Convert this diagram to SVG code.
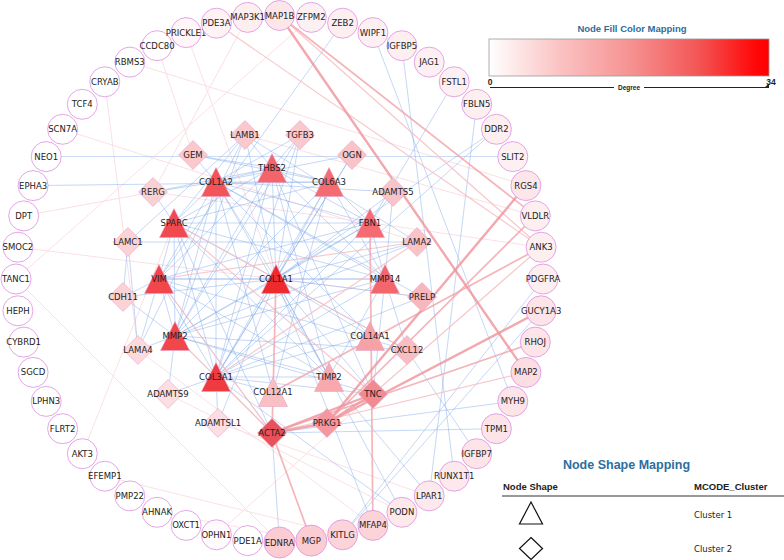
<svg xmlns="http://www.w3.org/2000/svg" width="784" height="560" viewBox="0 0 784 560">
<style>
.b{stroke:#7ba6ea;stroke-width:0.7;opacity:0.62}
.p1{stroke:#f0939a;stroke-width:2.4;opacity:0.8}
.p2{stroke:#f3a3a9;stroke-width:1.7;opacity:0.8}
.p3{stroke:#f6bcc0;stroke-width:1.2;opacity:0.8}
.p4{stroke:#fbe0e3;stroke-width:1}
.o circle{stroke:#dc8fdf;stroke-width:0.8}
.n polygon{stroke:#e8a3c6;stroke-width:0.6}
text{font-family:"DejaVu Sans",sans-serif;font-size:8.5px;fill:#222;text-anchor:middle}
.ttl{font-family:"Liberation Sans",sans-serif;font-weight:bold;fill:#2e6e9e}
.lg{font-family:"Liberation Sans",sans-serif;fill:#222;text-anchor:start}
</style>
<defs>
<linearGradient id="deg" x1="0" y1="0" x2="1" y2="0">
<stop offset="0" stop-color="#ffffff"/>
<stop offset="0.25" stop-color="#fbc3c3"/>
<stop offset="0.5" stop-color="#f69393"/>
<stop offset="0.75" stop-color="#f35555"/>
<stop offset="0.95" stop-color="#ff0808"/>
<stop offset="1" stop-color="#ff0000"/>
</linearGradient>
</defs>
<rect width="784" height="560" fill="#ffffff"/>
<g id="edges">
<line class="p4" x1="17.9" y1="247.2" x2="422" y2="297"/>
<line class="p4" x1="16" y1="279" x2="279.5" y2="542.5"/>
<line class="p4" x1="104.8" y1="81.8" x2="138" y2="350"/>
<line class="p4" x1="129.8" y1="62.1" x2="525.9" y2="185.6"/>
<line class="p4" x1="62.6" y1="129.3" x2="417" y2="242"/>
<line class="p4" x1="157.1" y1="45.7" x2="193" y2="155"/>
<line class="p4" x1="247.7" y1="17.4" x2="153" y2="192"/>
<line class="p4" x1="82.3" y1="453.7" x2="174" y2="223"/>
<line class="p4" x1="104.8" y1="476.2" x2="342.6" y2="534.8"/>
<line class="p4" x1="157.1" y1="512.3" x2="311.3" y2="540.6"/>
<line class="p4" x1="216.4" y1="534.8" x2="373" y2="394"/>
<line class="p4" x1="245" y1="135" x2="535.3" y2="215.9"/>
<line class="p4" x1="153" y1="192" x2="541.1" y2="247.2"/>
<line class="p4" x1="23.7" y1="215.9" x2="153" y2="192"/>
<line class="p4" x1="186.1" y1="32.6" x2="276" y2="279"/>
<line class="p4" x1="311.3" y1="17.4" x2="16" y2="279"/>
<line class="p4" x1="168" y1="394" x2="401.9" y2="512.3"/>
<line class="p4" x1="138" y1="350" x2="372.9" y2="525.4"/>
<line class="p4" x1="218" y1="423" x2="429.2" y2="495.9"/>
<line class="b" x1="276" y1="279" x2="216" y2="182"/>
<line class="b" x1="276" y1="279" x2="216" y2="377"/>
<line class="b" x1="276" y1="279" x2="174" y2="223"/>
<line class="b" x1="276" y1="279" x2="159" y2="279"/>
<line class="b" x1="276" y1="279" x2="175" y2="336"/>
<line class="b" x1="276" y1="279" x2="385" y2="279"/>
<line class="b" x1="276" y1="279" x2="272" y2="168"/>
<line class="b" x1="276" y1="279" x2="329" y2="182"/>
<line class="b" x1="276" y1="279" x2="370" y2="223"/>
<line class="b" x1="276" y1="279" x2="370" y2="336"/>
<line class="b" x1="276" y1="279" x2="329" y2="377"/>
<line class="b" x1="216" y1="182" x2="216" y2="377"/>
<line class="b" x1="216" y1="182" x2="174" y2="223"/>
<line class="b" x1="216" y1="182" x2="159" y2="279"/>
<line class="b" x1="216" y1="182" x2="175" y2="336"/>
<line class="b" x1="216" y1="182" x2="385" y2="279"/>
<line class="b" x1="216" y1="182" x2="272" y2="168"/>
<line class="b" x1="216" y1="182" x2="329" y2="182"/>
<line class="b" x1="216" y1="182" x2="370" y2="223"/>
<line class="b" x1="216" y1="182" x2="370" y2="336"/>
<line class="b" x1="216" y1="182" x2="273" y2="392"/>
<line class="b" x1="216" y1="182" x2="329" y2="377"/>
<line class="b" x1="216" y1="377" x2="174" y2="223"/>
<line class="b" x1="216" y1="377" x2="159" y2="279"/>
<line class="b" x1="216" y1="377" x2="175" y2="336"/>
<line class="b" x1="216" y1="377" x2="385" y2="279"/>
<line class="b" x1="216" y1="377" x2="272" y2="168"/>
<line class="b" x1="216" y1="377" x2="329" y2="182"/>
<line class="b" x1="216" y1="377" x2="370" y2="223"/>
<line class="b" x1="216" y1="377" x2="370" y2="336"/>
<line class="b" x1="216" y1="377" x2="273" y2="392"/>
<line class="b" x1="216" y1="377" x2="329" y2="377"/>
<line class="b" x1="174" y1="223" x2="159" y2="279"/>
<line class="b" x1="174" y1="223" x2="175" y2="336"/>
<line class="b" x1="174" y1="223" x2="385" y2="279"/>
<line class="b" x1="174" y1="223" x2="272" y2="168"/>
<line class="b" x1="174" y1="223" x2="329" y2="182"/>
<line class="b" x1="174" y1="223" x2="370" y2="223"/>
<line class="b" x1="174" y1="223" x2="329" y2="377"/>
<line class="b" x1="159" y1="279" x2="175" y2="336"/>
<line class="b" x1="159" y1="279" x2="385" y2="279"/>
<line class="b" x1="159" y1="279" x2="272" y2="168"/>
<line class="b" x1="159" y1="279" x2="370" y2="223"/>
<line class="b" x1="159" y1="279" x2="329" y2="377"/>
<line class="b" x1="175" y1="336" x2="385" y2="279"/>
<line class="b" x1="175" y1="336" x2="272" y2="168"/>
<line class="b" x1="175" y1="336" x2="329" y2="182"/>
<line class="b" x1="175" y1="336" x2="370" y2="223"/>
<line class="b" x1="175" y1="336" x2="329" y2="377"/>
<line class="b" x1="385" y1="279" x2="272" y2="168"/>
<line class="b" x1="385" y1="279" x2="370" y2="223"/>
<line class="b" x1="385" y1="279" x2="329" y2="377"/>
<line class="b" x1="385" y1="279" x2="329" y2="182"/>
<line class="b" x1="272" y1="168" x2="329" y2="182"/>
<line class="b" x1="272" y1="168" x2="370" y2="223"/>
<line class="b" x1="272" y1="168" x2="329" y2="377"/>
<line class="b" x1="329" y1="182" x2="370" y2="223"/>
<line class="b" x1="329" y1="182" x2="273" y2="392"/>
<line class="b" x1="193" y1="155" x2="272" y2="168"/>
<line class="b" x1="193" y1="155" x2="329" y2="182"/>
<line class="b" x1="193" y1="155" x2="216" y2="182"/>
<line class="b" x1="245" y1="135" x2="276" y2="279"/>
<line class="b" x1="245" y1="135" x2="174" y2="223"/>
<line class="b" x1="245" y1="135" x2="175" y2="336"/>
<line class="b" x1="245" y1="135" x2="272" y2="168"/>
<line class="b" x1="245" y1="135" x2="128" y2="242"/>
<line class="b" x1="245" y1="135" x2="417" y2="242"/>
<line class="b" x1="245" y1="135" x2="138" y2="350"/>
<line class="b" x1="128" y1="242" x2="138" y2="350"/>
<line class="b" x1="128" y1="242" x2="417" y2="242"/>
<line class="b" x1="300" y1="135" x2="276" y2="279"/>
<line class="b" x1="300" y1="135" x2="272" y2="168"/>
<line class="b" x1="300" y1="135" x2="216" y2="182"/>
<line class="b" x1="300" y1="135" x2="175" y2="336"/>
<line class="b" x1="300" y1="135" x2="216" y2="377"/>
<line class="b" x1="352" y1="155" x2="276" y2="279"/>
<line class="b" x1="352" y1="155" x2="216" y2="377"/>
<line class="b" x1="352" y1="155" x2="216" y2="182"/>
<line class="b" x1="153" y1="192" x2="216" y2="182"/>
<line class="b" x1="153" y1="192" x2="272" y2="168"/>
<line class="b" x1="153" y1="192" x2="174" y2="223"/>
<line class="b" x1="393" y1="192" x2="370" y2="223"/>
<line class="b" x1="393" y1="192" x2="276" y2="279"/>
<line class="b" x1="393" y1="192" x2="385" y2="279"/>
<line class="b" x1="393" y1="192" x2="216" y2="182"/>
<line class="b" x1="417" y1="242" x2="276" y2="279"/>
<line class="b" x1="417" y1="242" x2="175" y2="336"/>
<line class="b" x1="123" y1="297" x2="159" y2="279"/>
<line class="b" x1="123" y1="297" x2="128" y2="242"/>
<line class="b" x1="123" y1="297" x2="175" y2="336"/>
<line class="b" x1="123" y1="297" x2="276" y2="279"/>
<line class="b" x1="422" y1="297" x2="276" y2="279"/>
<line class="b" x1="422" y1="297" x2="216" y2="377"/>
<line class="b" x1="422" y1="297" x2="216" y2="182"/>
<line class="b" x1="138" y1="350" x2="175" y2="336"/>
<line class="b" x1="138" y1="350" x2="159" y2="279"/>
<line class="b" x1="407" y1="350" x2="175" y2="336"/>
<line class="b" x1="407" y1="350" x2="385" y2="279"/>
<line class="b" x1="407" y1="350" x2="276" y2="279"/>
<line class="b" x1="407" y1="350" x2="159" y2="279"/>
<line class="b" x1="168" y1="394" x2="216" y2="377"/>
<line class="b" x1="168" y1="394" x2="175" y2="336"/>
<line class="b" x1="373" y1="394" x2="276" y2="279"/>
<line class="b" x1="373" y1="394" x2="175" y2="336"/>
<line class="b" x1="373" y1="394" x2="385" y2="279"/>
<line class="b" x1="373" y1="394" x2="216" y2="377"/>
<line class="b" x1="373" y1="394" x2="272" y2="168"/>
<line class="b" x1="218" y1="423" x2="216" y2="377"/>
<line class="b" x1="218" y1="423" x2="276" y2="279"/>
<line class="b" x1="272" y1="433" x2="159" y2="279"/>
<line class="b" x1="272" y1="433" x2="216" y2="377"/>
<line class="b" x1="272" y1="433" x2="174" y2="223"/>
<line class="b" x1="46.2" y1="156.6" x2="512.8" y2="156.6"/>
<line class="b" x1="33.1" y1="185.6" x2="329" y2="182"/>
<line class="b" x1="342.6" y1="23.2" x2="159" y2="279"/>
<line class="b" x1="372.9" y1="32.6" x2="512.8" y2="401.4"/>
<line class="b" x1="401.9" y1="45.7" x2="454.2" y2="476.2"/>
<line class="b" x1="454.2" y1="81.8" x2="370" y2="223"/>
<line class="b" x1="476.7" y1="104.3" x2="429.2" y2="495.9"/>
<line class="b" x1="496.4" y1="129.3" x2="276" y2="279"/>
<line class="b" x1="496.4" y1="129.3" x2="216" y2="377"/>
<line class="b" x1="543" y1="279" x2="342.6" y2="534.8"/>
<line class="b" x1="476.7" y1="453.7" x2="407" y2="350"/>
<line class="b" x1="496.4" y1="428.7" x2="272" y2="433"/>
<line class="b" x1="512.8" y1="401.4" x2="272" y2="433"/>
<line class="b" x1="429.2" y1="495.9" x2="329" y2="377"/>
<line class="b" x1="401.9" y1="512.3" x2="276" y2="279"/>
<line class="b" x1="401.9" y1="512.3" x2="216" y2="377"/>
<line class="b" x1="342.6" y1="534.8" x2="541.1" y2="310.8"/>
<line class="b" x1="279.5" y1="542.5" x2="272" y2="433"/>
<line class="b" x1="372.9" y1="525.4" x2="276" y2="279"/>
<line class="p3" x1="279.5" y1="15.5" x2="541.1" y2="247.2"/>
<line class="p3" x1="175" y1="336" x2="272" y2="433"/>
<line class="p3" x1="159" y1="279" x2="272" y2="433"/>
<line class="p3" x1="159" y1="279" x2="417" y2="242"/>
<line class="p3" x1="216.4" y1="23.2" x2="541.1" y2="247.2"/>
<line class="p3" x1="174" y1="223" x2="373" y2="394"/>
<line class="p3" x1="216" y1="377" x2="417" y2="242"/>
<line class="p3" x1="174" y1="223" x2="407" y2="350"/>
<line class="p3" x1="272" y1="433" x2="525.9" y2="372.4"/>
<line class="p3" x1="373" y1="394" x2="541.1" y2="247.2"/>
<line class="p3" x1="216" y1="377" x2="272" y2="433"/>
<line class="p2" x1="279.5" y1="15.5" x2="535.3" y2="215.9"/>
<line class="p2" x1="370" y1="223" x2="372.9" y2="525.4"/>
<line class="p2" x1="276" y1="279" x2="272" y2="433"/>
<line class="p2" x1="272" y1="433" x2="311.3" y2="540.6"/>
<line class="p2" x1="272" y1="433" x2="535.3" y2="342.1"/>
<line class="p2" x1="327" y1="423" x2="535.3" y2="215.9"/>
<line class="p2" x1="273" y1="392" x2="541.1" y2="247.2"/>
<line class="p1" x1="279.5" y1="15.5" x2="525.9" y2="372.4"/>
<line class="p1" x1="272" y1="433" x2="327" y2="423"/>
<line class="p1" x1="272" y1="433" x2="373" y2="394"/>
<line class="p1" x1="327" y1="423" x2="373" y2="394"/>
<line class="p1" x1="327" y1="423" x2="525.9" y2="185.6"/>
<line class="p1" x1="327" y1="423" x2="541.1" y2="310.8"/>
</g>
<g id="outer-nodes" class="o">
<g id="MAP1B"><circle cx="279.5" cy="15.5" r="15" fill="#fde6ea"/><text x="279.5" y="18.5">MAP1B</text></g>
<g id="ZFPM2"><circle cx="311.3" cy="17.4" r="15" fill="#fdf0f2"/><text x="311.3" y="20.4">ZFPM2</text></g>
<g id="ZEB2"><circle cx="342.6" cy="23.2" r="15" fill="#fdeef0"/><text x="342.6" y="26.2">ZEB2</text></g>
<g id="WIPF1"><circle cx="372.9" cy="32.6" r="15" fill="#fdf0f2"/><text x="372.9" y="35.6">WIPF1</text></g>
<g id="IGFBP5"><circle cx="401.9" cy="45.7" r="15" fill="#fdeef0"/><text x="401.9" y="48.7">IGFBP5</text></g>
<g id="JAG1"><circle cx="429.2" cy="62.1" r="15" fill="#fdf0f2"/><text x="429.2" y="65.1">JAG1</text></g>
<g id="FSTL1"><circle cx="454.2" cy="81.8" r="15" fill="#fdf0f2"/><text x="454.2" y="84.8">FSTL1</text></g>
<g id="FBLN5"><circle cx="476.7" cy="104.3" r="15" fill="#fdeef0"/><text x="476.7" y="107.3">FBLN5</text></g>
<g id="DDR2"><circle cx="496.4" cy="129.3" r="15" fill="#fdeef0"/><text x="496.4" y="132.3">DDR2</text></g>
<g id="SLIT2"><circle cx="512.8" cy="156.6" r="15" fill="#fdf0f2"/><text x="512.8" y="159.6">SLIT2</text></g>
<g id="RGS4"><circle cx="525.9" cy="185.6" r="15" fill="#fde6ea"/><text x="525.9" y="188.6">RGS4</text></g>
<g id="VLDLR"><circle cx="535.3" cy="215.9" r="15" fill="#fdeef0"/><text x="535.3" y="218.9">VLDLR</text></g>
<g id="ANK3"><circle cx="541.1" cy="247.2" r="15" fill="#fdeef0"/><text x="541.1" y="250.2">ANK3</text></g>
<g id="PDGFRA"><circle cx="543" cy="279" r="15" fill="#fdeef0"/><text x="543" y="282">PDGFRA</text></g>
<g id="GUCY1A3"><circle cx="541.1" cy="310.8" r="15" fill="#fce4e8"/><text x="541.1" y="313.8">GUCY1A3</text></g>
<g id="RHOJ"><circle cx="535.3" cy="342.1" r="15" fill="#fce4e8"/><text x="535.3" y="345.1">RHOJ</text></g>
<g id="MAP2"><circle cx="525.9" cy="372.4" r="15" fill="#fcdde2"/><text x="525.9" y="375.4">MAP2</text></g>
<g id="MYH9"><circle cx="512.8" cy="401.4" r="15" fill="#fce4e8"/><text x="512.8" y="404.4">MYH9</text></g>
<g id="TPM1"><circle cx="496.4" cy="428.7" r="15" fill="#fce4e8"/><text x="496.4" y="431.7">TPM1</text></g>
<g id="IGFBP7"><circle cx="476.7" cy="453.7" r="15" fill="#fce4e8"/><text x="476.7" y="456.7">IGFBP7</text></g>
<g id="RUNX1T1"><circle cx="454.2" cy="476.2" r="15" fill="#fde8ec"/><text x="454.2" y="479.2">RUNX1T1</text></g>
<g id="LPAR1"><circle cx="429.2" cy="495.9" r="15" fill="#fde8ec"/><text x="429.2" y="498.9">LPAR1</text></g>
<g id="PODN"><circle cx="401.9" cy="512.3" r="15" fill="#fde8ec"/><text x="401.9" y="515.3">PODN</text></g>
<g id="MFAP4"><circle cx="372.9" cy="525.4" r="15" fill="#fbd3d8"/><text x="372.9" y="528.4">MFAP4</text></g>
<g id="KITLG"><circle cx="342.6" cy="534.8" r="15" fill="#fbd3d8"/><text x="342.6" y="537.8">KITLG</text></g>
<g id="MGP"><circle cx="311.3" cy="540.6" r="15.5" fill="#fbcdd2"/><text x="311.3" y="543.6">MGP</text></g>
<g id="EDNRA"><circle cx="279.5" cy="542.5" r="15.5" fill="#fbcdd2"/><text x="279.5" y="545.5">EDNRA</text></g>
<g id="PDE1A"><circle cx="247.7" cy="540.6" r="15" fill="#ffffff"/><text x="247.7" y="543.6">PDE1A</text></g>
<g id="OPHN1"><circle cx="216.4" cy="534.8" r="15" fill="#fffafb"/><text x="216.4" y="537.8">OPHN1</text></g>
<g id="OXCT1"><circle cx="186.1" cy="525.4" r="15" fill="#ffffff"/><text x="186.1" y="528.4">OXCT1</text></g>
<g id="AHNAK"><circle cx="157.1" cy="512.3" r="15" fill="#ffffff"/><text x="157.1" y="515.3">AHNAK</text></g>
<g id="PMP22"><circle cx="129.8" cy="495.9" r="15" fill="#ffffff"/><text x="129.8" y="498.9">PMP22</text></g>
<g id="EFEMP1"><circle cx="104.8" cy="476.2" r="15" fill="#ffffff"/><text x="104.8" y="479.2">EFEMP1</text></g>
<g id="AKT3"><circle cx="82.3" cy="453.7" r="15" fill="#ffffff"/><text x="82.3" y="456.7">AKT3</text></g>
<g id="FLRT2"><circle cx="62.6" cy="428.7" r="15" fill="#ffffff"/><text x="62.6" y="431.7">FLRT2</text></g>
<g id="LPHN3"><circle cx="46.2" cy="401.4" r="15" fill="#ffffff"/><text x="46.2" y="404.4">LPHN3</text></g>
<g id="SGCD"><circle cx="33.1" cy="372.4" r="15" fill="#ffffff"/><text x="33.1" y="375.4">SGCD</text></g>
<g id="CYBRD1"><circle cx="23.7" cy="342.1" r="15" fill="#ffffff"/><text x="23.7" y="345.1">CYBRD1</text></g>
<g id="HEPH"><circle cx="17.9" cy="310.8" r="15" fill="#ffffff"/><text x="17.9" y="313.8">HEPH</text></g>
<g id="TANC1"><circle cx="16" cy="279" r="15" fill="#ffffff"/><text x="16" y="282">TANC1</text></g>
<g id="SMOC2"><circle cx="17.9" cy="247.2" r="15" fill="#ffffff"/><text x="17.9" y="250.2">SMOC2</text></g>
<g id="DPT"><circle cx="23.7" cy="215.9" r="15" fill="#ffffff"/><text x="23.7" y="218.9">DPT</text></g>
<g id="EPHA3"><circle cx="33.1" cy="185.6" r="15" fill="#ffffff"/><text x="33.1" y="188.6">EPHA3</text></g>
<g id="NEO1"><circle cx="46.2" cy="156.6" r="15" fill="#ffffff"/><text x="46.2" y="159.6">NEO1</text></g>
<g id="SCN7A"><circle cx="62.6" cy="129.3" r="15" fill="#ffffff"/><text x="62.6" y="132.3">SCN7A</text></g>
<g id="TCF4"><circle cx="82.3" cy="104.3" r="15" fill="#ffffff"/><text x="82.3" y="107.3">TCF4</text></g>
<g id="CRYAB"><circle cx="104.8" cy="81.8" r="15" fill="#ffffff"/><text x="104.8" y="84.8">CRYAB</text></g>
<g id="RBMS3"><circle cx="129.8" cy="62.1" r="15" fill="#ffffff"/><text x="129.8" y="65.1">RBMS3</text></g>
<g id="CCDC80"><circle cx="157.1" cy="45.7" r="15" fill="#ffffff"/><text x="157.1" y="48.7">CCDC80</text></g>
<g id="PRICKLE1"><circle cx="186.1" cy="32.6" r="15" fill="#fef6f7"/><text x="186.1" y="35.6">PRICKLE1</text></g>
<g id="PDE3A"><circle cx="216.4" cy="23.2" r="15" fill="#fef2f4"/><text x="216.4" y="26.2">PDE3A</text></g>
<g id="MAP3K1"><circle cx="247.7" cy="17.4" r="15" fill="#fdeef0"/><text x="247.7" y="20.4">MAP3K1</text></g>
</g>
<g id="inner-nodes" class="n">
<g id="THBS2"><polygon points="272,153.5 286.5,182.5 257.5,182.5" fill="#f3656b"/><text x="272" y="171">THBS2</text></g>
<g id="COL1A2"><polygon points="216,167.5 230.5,196.5 201.5,196.5" fill="#f2545a"/><text x="216" y="185">COL1A2</text></g>
<g id="COL6A3"><polygon points="329,167.5 343.5,196.5 314.5,196.5" fill="#f46c72"/><text x="329" y="185">COL6A3</text></g>
<g id="SPARC"><polygon points="174,208.5 188.5,237.5 159.5,237.5" fill="#f04a50"/><text x="174" y="226">SPARC</text></g>
<g id="FBN1"><polygon points="370,208.5 384.5,237.5 355.5,237.5" fill="#f46c72"/><text x="370" y="226">FBN1</text></g>
<g id="VIM"><polygon points="159,264.5 173.5,293.5 144.5,293.5" fill="#f0464c"/><text x="159" y="282">VIM</text></g>
<g id="COL1A1"><polygon points="276,264.5 290.5,293.5 261.5,293.5" fill="#ee2a2e"/><text x="276" y="282">COL1A1</text></g>
<g id="MMP14"><polygon points="385,264.5 399.5,293.5 370.5,293.5" fill="#f3666c"/><text x="385" y="282">MMP14</text></g>
<g id="MMP2"><polygon points="175,321.5 189.5,350.5 160.5,350.5" fill="#f0464c"/><text x="175" y="339">MMP2</text></g>
<g id="COL14A1"><polygon points="370,321.5 384.5,350.5 355.5,350.5" fill="#f6a2a7"/><text x="370" y="339">COL14A1</text></g>
<g id="COL3A1"><polygon points="216,362.5 230.5,391.5 201.5,391.5" fill="#ee3a40"/><text x="216" y="380">COL3A1</text></g>
<g id="COL12A1"><polygon points="273,377.5 287.5,406.5 258.5,406.5" fill="#f9bfc3"/><text x="273" y="395">COL12A1</text></g>
<g id="TIMP2"><polygon points="329,362.5 343.5,391.5 314.5,391.5" fill="#f7a9ae"/><text x="329" y="380">TIMP2</text></g>
<g id="GEM"><polygon points="193,140.5 207.5,155 193,169.5 178.5,155" fill="#fac9cd"/><text x="193" y="158">GEM</text></g>
<g id="LAMB1"><polygon points="245,120.5 259.5,135 245,149.5 230.5,135" fill="#fac9cd"/><text x="245" y="138">LAMB1</text></g>
<g id="TGFB3"><polygon points="300,120.5 314.5,135 300,149.5 285.5,135" fill="#fac9cd"/><text x="300" y="138">TGFB3</text></g>
<g id="OGN"><polygon points="352,140.5 366.5,155 352,169.5 337.5,155" fill="#f9c4c8"/><text x="352" y="158">OGN</text></g>
<g id="RERG"><polygon points="153,177.5 167.5,192 153,206.5 138.5,192" fill="#fbd0d3"/><text x="153" y="195">RERG</text></g>
<g id="ADAMTS5"><polygon points="393,177.5 407.5,192 393,206.5 378.5,192" fill="#f9c4c8"/><text x="393" y="195">ADAMTS5</text></g>
<g id="LAMC1"><polygon points="128,227.5 142.5,242 128,256.5 113.5,242" fill="#fbd3d6"/><text x="128" y="245">LAMC1</text></g>
<g id="LAMA2"><polygon points="417,227.5 431.5,242 417,256.5 402.5,242" fill="#f9c4c8"/><text x="417" y="245">LAMA2</text></g>
<g id="CDH11"><polygon points="123,282.5 137.5,297 123,311.5 108.5,297" fill="#fbd3d6"/><text x="123" y="300">CDH11</text></g>
<g id="PRELP"><polygon points="422,282.5 436.5,297 422,311.5 407.5,297" fill="#f8b7bc"/><text x="422" y="300">PRELP</text></g>
<g id="LAMA4"><polygon points="138,335.5 152.5,350 138,364.5 123.5,350" fill="#fcdadd"/><text x="138" y="353">LAMA4</text></g>
<g id="CXCL12"><polygon points="407,335.5 421.5,350 407,364.5 392.5,350" fill="#f9bec2"/><text x="407" y="353">CXCL12</text></g>
<g id="ADAMTS9"><polygon points="168,379.5 182.5,394 168,408.5 153.5,394" fill="#fcdfe2"/><text x="168" y="397">ADAMTS9</text></g>
<g id="TNC"><polygon points="373,379.5 387.5,394 373,408.5 358.5,394" fill="#f28a92"/><text x="373" y="397">TNC</text></g>
<g id="ADAMTSL1"><polygon points="218,408.5 232.5,423 218,437.5 203.5,423" fill="#fcdfe2"/><text x="218" y="426">ADAMTSL1</text></g>
<g id="PRKG1"><polygon points="327,408.5 341.5,423 327,437.5 312.5,423" fill="#f4979e"/><text x="327" y="426">PRKG1</text></g>
<g id="ACTA2"><polygon points="272,418.5 286.5,433 272,447.5 257.5,433" fill="#e8505a"/><text x="272" y="436">ACTA2</text></g>
</g>
<g id="legend-fill">
<text class="ttl" x="632" y="31.5" style="font-size:9.5px">Node Fill Color Mapping</text>
<rect x="489" y="39" width="280" height="37" fill="url(#deg)" stroke="#9a9a9a" stroke-width="0.8"/>
<text x="490" y="84.5" style="font-family:'Liberation Sans',sans-serif;font-weight:bold;font-size:8.5px">0</text>
<text x="771" y="84.5" style="font-family:'Liberation Sans',sans-serif;font-weight:bold;font-size:8.5px">34</text>
<line x1="490" y1="87.5" x2="614" y2="87.5" stroke="#222" stroke-width="1"/>
<line x1="644" y1="87.5" x2="768" y2="87.5" stroke="#222" stroke-width="1"/>
<polygon points="769,83.5 769,88 764,88" fill="#222"/>
<text x="629" y="90" style="font-family:'Liberation Sans',sans-serif;font-weight:bold;font-size:6.5px">Degree</text>
</g>
<g id="legend-shape">
<text class="ttl" x="626.5" y="468.5" style="font-size:12.5px">Node Shape Mapping</text>
<text class="lg" x="503" y="489.5" style="font-size:9.5px;font-weight:bold">Node Shape</text>
<text class="lg" x="694" y="489.5" style="font-size:9.5px;font-weight:bold">MCODE_Cluster</text>
<line x1="502" y1="496" x2="784" y2="496" stroke="#333" stroke-width="1.2"/>
<polygon points="531,502 542.5,524 519.5,524" fill="#ffffff" stroke="#111" stroke-width="1.2"/>
<text class="lg" x="694" y="517.5" style="font-family:'DejaVu Sans',sans-serif;font-size:8.5px">Cluster 1</text>
<polygon points="531,537.5 542.5,548.5 531,559.5 519.5,548.5" fill="#ffffff" stroke="#111" stroke-width="1.2"/>
<text class="lg" x="694" y="551.5" style="font-family:'DejaVu Sans',sans-serif;font-size:8.5px">Cluster 2</text>
</g>
</svg>
